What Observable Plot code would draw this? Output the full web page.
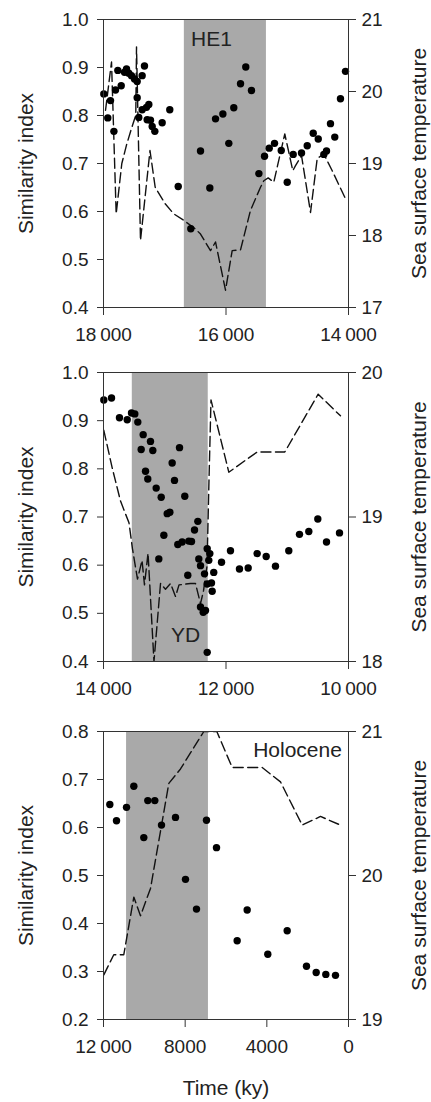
<!DOCTYPE html>
<html>
<head>
<meta charset="utf-8">
<script src="https://cdn.jsdelivr.net/npm/d3@7"></script>
<script src="https://cdn.jsdelivr.net/npm/@observablehq/plot@0.6"></script>
<style>
  body { margin: 0; background: #fff; }
  #wrap { position: relative; width: 431px; height: 1102px; overflow: hidden; }
  #wrap svg { position: absolute; left: 0; }
</style>
</head>
<body>
<div id="wrap"></div>
<script>
// ---------- Panel 1 : HE1 ----------
const p1DotAge = [17995,17930,17886,17830,17804,17766,17711,17657,17624,17587,17543,17494,17450,17450,17424,17369,17331,17369,17298,17260,17287,17233,17205,17162,17042,16918,16780,16575,16416,16264,16171,16051,15954,15873,15763,15677,15584,15463,15371,15294,15208,15098,15000,14903,14767,14674,14576,14494,14403,14359,14294,14224,14131,14049];
const p1DotSim = [0.845,0.795,0.831,0.767,0.853,0.894,0.862,0.890,0.897,0.888,0.883,0.876,0.871,0.837,0.796,0.883,0.903,0.812,0.817,0.823,0.791,0.790,0.777,0.767,0.785,0.812,0.652,0.564,0.726,0.649,0.793,0.803,0.742,0.816,0.866,0.901,0.852,0.679,0.715,0.732,0.742,0.727,0.661,0.719,0.722,0.737,0.763,0.751,0.719,0.726,0.783,0.755,0.835,0.892];
const p1SstAge = [17967,17869,17793,17701,17620,17538,17473,17461,17396,17241,17156,16993,16852,16689,16498,16416,16253,16171,16008,15899,15763,15600,15437,15383,15311,15220,15040,14909,14865,14767,14620,14511,14403,14266,14049];
const p1Sst    = [19.74,20.41,18.30,19.00,19.27,19.50,19.67,20.62,17.93,19.18,18.67,18.44,18.30,18.21,18.09,18.02,17.79,17.91,17.24,17.79,17.80,18.35,18.67,18.76,18.80,18.74,19.41,18.90,18.97,19.11,18.32,19.07,19.13,18.90,18.51];
const p1Band = [16680, 15340];
const p1XTicks = [18000, 16000, 14000];
const p1YTicks = [0.4, 0.5, 0.6, 0.7, 0.8, 0.9, 1.0];
const p1SstTicks = [17, 18, 19, 20, 21];

// ---------- Panel 2 : YD ----------
const p2DotAge = [13995,13869,13739,13613,13543,13489,13440,13352,13233,13385,13195,12759,12879,13314,13277,12841,13140,13058,12673,12960,12917,12460,12514,13015,12787,12716,12607,12563,13097,12624,12444,12416,12307,12264,12281,12351,12200,12307,12237,12226,12416,12372,12335,12307,12073,11927,11780,11638,11491,11344,11192,10975,10800,10648,10501,10359,10147];
const p2DotSim = [0.943,0.947,0.906,0.902,0.916,0.914,0.897,0.871,0.857,0.840,0.838,0.844,0.812,0.795,0.779,0.776,0.760,0.741,0.743,0.707,0.710,0.691,0.673,0.662,0.643,0.648,0.650,0.649,0.613,0.579,0.613,0.599,0.634,0.624,0.610,0.582,0.585,0.561,0.563,0.546,0.513,0.502,0.506,0.419,0.606,0.630,0.592,0.594,0.624,0.618,0.598,0.630,0.664,0.670,0.696,0.648,0.667];
const p2SstAge = [13995,13858,13722,13584,13527,13445,13371,13331,13273,13176,13069,12988,12906,12824,12767,12580,12498,12416,12367,12310,12278,12245,11954,11491,11040,10495,10131];
const p2Sst    = [19.60,19.34,19.11,18.96,18.78,18.57,18.70,18.53,18.75,18.00,18.54,18.50,18.54,18.45,18.53,18.54,18.54,18.40,18.49,18.66,19.25,19.81,19.31,19.45,19.45,19.85,19.70];
const p2Band = [13530, 12290];
const p2XTicks = [14000, 12000, 10000];
const p2YTicks = [0.4, 0.5, 0.6, 0.7, 0.8, 0.9, 1.0];
const p2SstTicks = [18, 19, 20];

// ---------- Panel 3 : Holocene ----------
const p3DotAge = [11690,11363,10873,10515,10026,9830,9487,9159,8474,7984,7445,6955,6465,5453,4963,3952,3003,2057,1583,1111,637];
const p3DotSim = [0.648,0.614,0.642,0.686,0.579,0.656,0.656,0.605,0.621,0.492,0.430,0.615,0.558,0.364,0.428,0.336,0.385,0.311,0.298,0.294,0.292];
const p3SstAge = [11985,11496,11006,10515,10188,9698,8800,8229,7087,6450,5697,4228,3331,2268,1372,392];
const p3Sst    = [19.31,19.45,19.45,19.85,19.72,19.91,20.64,20.74,21.00,21.00,20.75,20.75,20.65,20.35,20.41,20.35];
const p3Band = [10870, 6860];
const p3XTicks = [12000, 8000, 4000, 0];
const p3YTicks = [0.2, 0.3, 0.4, 0.5, 0.6, 0.7, 0.8];
const p3SstTicks = [19, 20, 21];

const FONT = "'Liberation Sans', Arial, Helvetica, sans-serif";
const INK = "#222";

function fmtAge(d) {
  return d >= 10000 ? d3.format(",")(d).replace(",", "\u2009") : String(d);
}

function panel(cfg) {
  const toSim = d3.scaleLinear().domain(cfg.sstDomain).range(cfg.yDomain);
  const dots = cfg.dotAge.map((a, i) => ({age: a, sim: cfg.dotSim[i]}));
  const sst = cfg.sstAge.map((a, i) => ({age: a, sst: cfg.sst[i]}));
  const marks = [
    Plot.rect([cfg.band], {x1: d => d[0], x2: d => d[1], fill: "#a9a9a9"}),
    Plot.line(sst, {x: "age", y: d => toSim(d.sst), stroke: "#111", strokeWidth: 1.4, strokeDasharray: "10,4.5", clip: true}),
    Plot.dot(dots, {x: "age", y: "sim", r: 3.7, fill: "#000", stroke: "none"}),
    Plot.frame({stroke: "#333", strokeWidth: 1}),
    Plot.axisY({anchor: "left", ticks: cfg.yTicks, tickFormat: d3.format(".1f"), tickSize: 6, tickPadding: 9, label: null, stroke: "#333", fontSize: 19}),
    Plot.axisY({anchor: "right", ticks: cfg.sstTicks.map(t => toSim(t)), tickFormat: v => String(Math.round(toSim.invert(v))), tickSize: 7, tickPadding: 6, label: null, stroke: "#333", fontSize: 19}),
    Plot.axisX({ticks: cfg.xTicks, tickFormat: fmtAge, tickSize: 8, tickPadding: 12, label: null, stroke: "#333", fontSize: 19}),
    Plot.text(["Similarity index"], {text: d => d, frameAnchor: "left", textAnchor: "middle", lineAnchor: "middle", dx: -77.5, rotate: -90, fontSize: 21, fill: INK}),
    Plot.text(["Sea surface temperature"], {text: d => d, frameAnchor: "right", textAnchor: "middle", lineAnchor: "middle", dx: 71, rotate: -90, fontSize: 21, fill: INK}),
    Plot.text([cfg.note], {x: d => d.age, y: d => d.sim, text: d => d.label, fontSize: 21, fill: INK})
  ];
  if (cfg.xLabel) {
    marks.push(Plot.text([cfg.xLabel], {text: d => d, frameAnchor: "bottom", lineAnchor: "middle", dy: 69, fontSize: 21, fill: INK}));
  }
  const svg = Plot.plot({
    width: 431,
    height: cfg.height,
    marginLeft: 103,
    marginRight: 83,
    marginTop: cfg.marginTop,
    marginBottom: cfg.marginBottom,
    x: {domain: cfg.xDomain},
    y: {domain: cfg.yDomain},
    style: {fontFamily: FONT, fontSize: "19px", color: INK, background: "transparent", overflow: "visible"},
    marks
  });
  svg.style.top = cfg.top + "px";
  document.getElementById("wrap").appendChild(svg);
}

panel({
  top: 0, height: 350, marginTop: 19, marginBottom: 43,
  xDomain: [18000, 14000], yDomain: [0.4, 1.0], sstDomain: [17, 21],
  xTicks: p1XTicks, yTicks: p1YTicks, sstTicks: p1SstTicks, band: p1Band,
  dotAge: p1DotAge, dotSim: p1DotSim, sstAge: p1SstAge, sst: p1Sst,
  note: {age: 16237, sim: 0.958, label: "HE1"}
});
panel({
  top: 350, height: 350, marginTop: 22, marginBottom: 39,
  xDomain: [14000, 10000], yDomain: [0.4, 1.0], sstDomain: [18, 20],
  xTicks: p2XTicks, yTicks: p2YTicks, sstTicks: p2SstTicks, band: p2Band,
  dotAge: p2DotAge, dotSim: p2DotSim, sstAge: p2SstAge, sst: p2Sst,
  note: {age: 12661, sim: 0.454, label: "YD"}
});
panel({
  top: 700, height: 402, marginTop: 31, marginBottom: 83,
  xDomain: [12000, 0], yDomain: [0.2, 0.8], sstDomain: [19, 21],
  xTicks: p3XTicks, yTicks: p3YTicks, sstTicks: p3SstTicks, band: p3Band,
  dotAge: p3DotAge, dotSim: p3DotSim, sstAge: p3SstAge, sst: p3Sst,
  note: {age: 2498, sim: 0.76, label: "Holocene"},
  xLabel: "Time (ky)"
});
</script>
</body>
</html>
